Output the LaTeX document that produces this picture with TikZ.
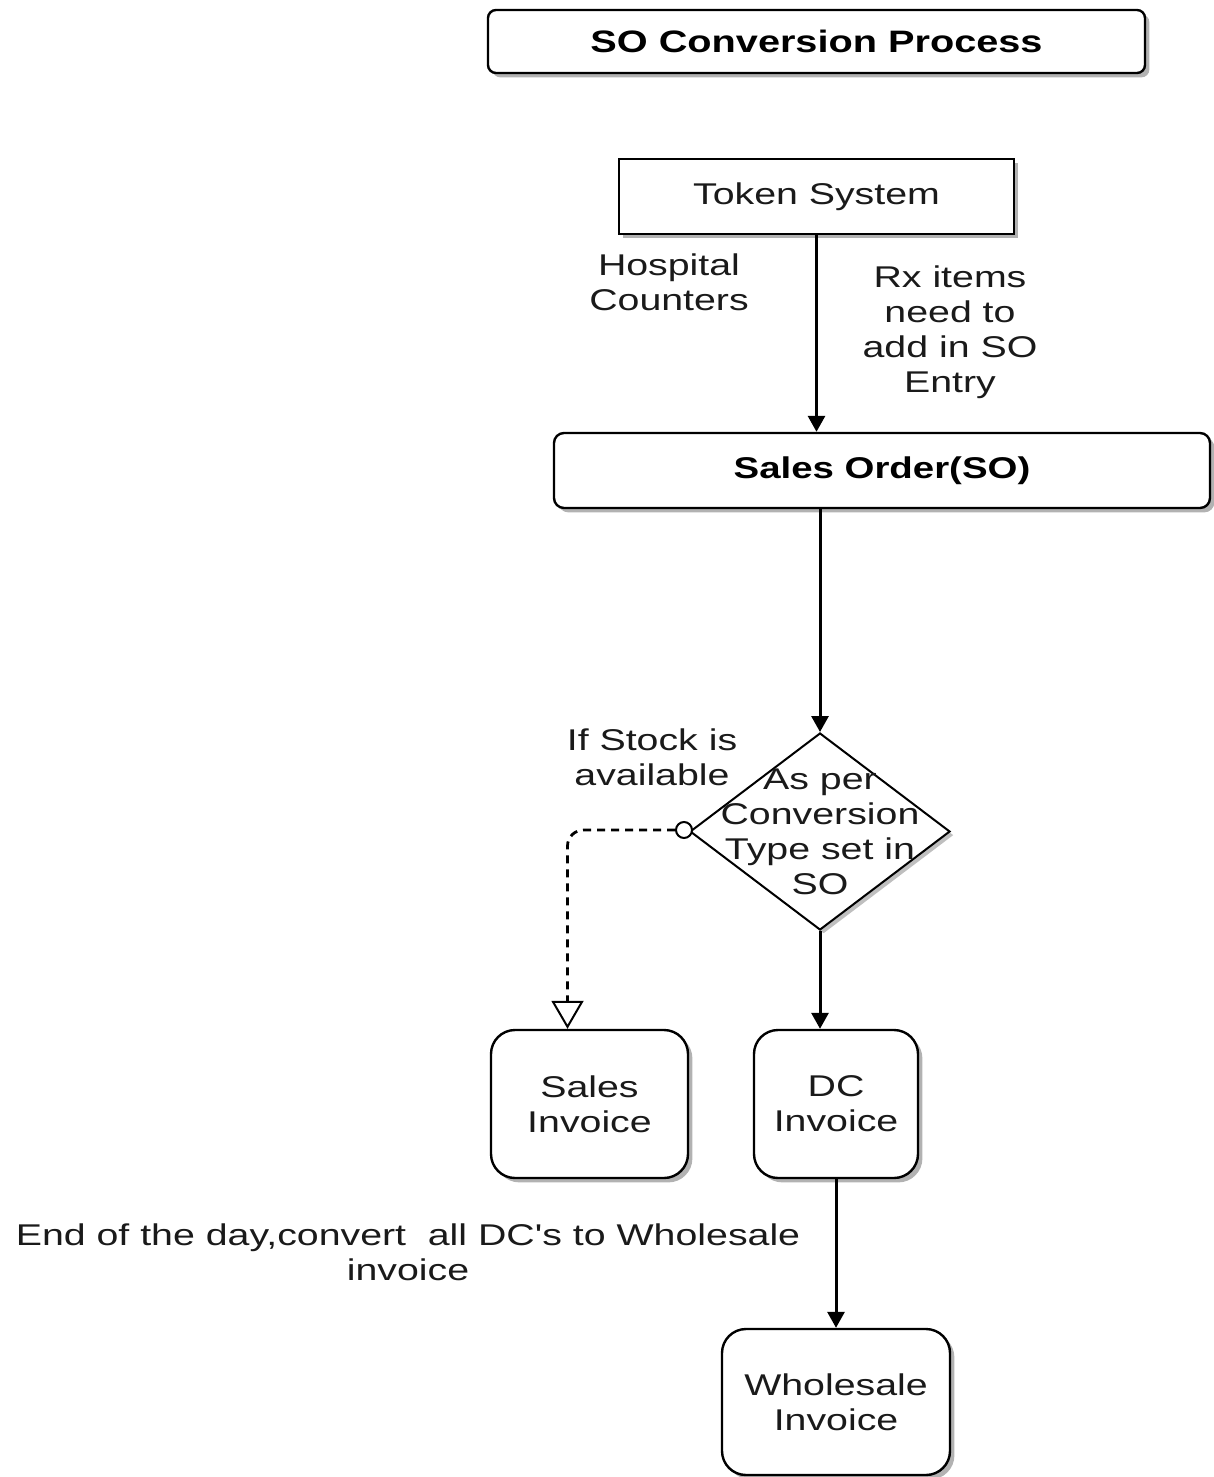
\documentclass[tikz,border=0pt]{standalone}
\usepackage{fontspec}
\setmainfont{Liberation Sans}[FakeStretch=1.31, Ligatures=TeXOff, BoldFeatures={FakeStretch=1.28}]
\usetikzlibrary{shapes.geometric,arrows.meta,shadows}
\definecolor{txt}{HTML}{1A1A1A}
\tikzset{
  base/.style={draw=black, fill=white, line width=1.2pt, inner sep=0pt,
    drop shadow={shadow xshift=2.2pt, shadow yshift=-2.2pt, fill=black!30, opacity=1},
    font=\fontsize{15}{17.5}\selectfont, align=center, text=txt},
  titlebox/.style={base, rounded corners=4pt, minimum width=328.5pt, minimum height=31.5pt, font=\bfseries\fontsize{15.5}{17.5}\selectfont, text=black},
  plainbox/.style={base, minimum width=197.5pt, minimum height=37.5pt},
  sobox/.style={base, rounded corners=5pt, minimum width=328pt, minimum height=37.5pt, font=\bfseries\fontsize{15}{17.5}\selectfont, text=black},
  invbox/.style={base, rounded corners=12pt, minimum height=74pt},
  decision/.style={diamond, draw=black, fill=white, line width=1pt, inner sep=0pt,
    minimum width=130pt, minimum height=98.5pt,
    drop shadow={shadow xshift=1.8pt, shadow yshift=-1.8pt, fill=black!25, opacity=1}},
  lbl/.style={font=\fontsize{15}{17.5}\selectfont, align=center, text=txt, inner sep=0pt},
  arr/.style={line width=1.5pt, -{Triangle[width=8.5pt, length=8pt]}},
  darr/.style={line width=1.4pt, dash pattern=on 4pt off 3pt, rounded corners=8pt,
    -{Triangle[open, width=16pt, length=14pt, line width=1pt, fill=white]}}
}
\begin{document}
\begin{tikzpicture}[x=0.5pt, y=-0.5pt]
\useasboundingbox (0,0) rectangle (1214,1477);
% nodes
\node[titlebox] (title) at (816.5,41.5) {SO Conversion Process};
\node[plainbox] (token) at (816.5,196.5) {Token System};
\node[sobox] (so) at (882,470.5) {Sales Order(SO)};
\node[decision] (dia) at (820,831.5) {};
\node[lbl] (diatext) at (820,831.5) {As per\\Conversion\\Type set in\\SO};
\node[invbox, minimum width=98.5pt] (sales) at (589.5,1104) {Sales\\Invoice};
\node[invbox, minimum width=82pt] (dc) at (836,1104) {DC\\Invoice};
\node[invbox, minimum width=114pt, minimum height=73pt] (whole) at (836,1402) {Wholesale\\Invoice};
% labels
\node[lbl] (hosp) at (669,282) {Hospital\\Counters};
\node[lbl] (rx) at (950,332) {Rx items\\need to\\add in SO\\Entry};
\node[lbl] (stock) at (652,757) {If Stock is\\available};
\node[lbl] (eod) at (408,1252) {End of the day,convert\ \ all DC's to Wholesale\\invoice};
\node[circle, draw=black, line width=1pt, fill=white, minimum size=8pt, inner sep=0pt] (circ) at (684,830) {};
\coordinate (dtip) at ([xshift=-11pt]sales.north);
% connectors
\draw[arr] (token.south) -- (token.south |- so.north);
\draw[arr] (dia.north |- so.south) -- (dia.north);
\draw[arr] (dia.south) -- (dia.south |- dc.north);
\draw[arr] (dc.south) -- (whole.north);
\draw[darr] (circ.west) -| (dtip);
\end{tikzpicture}
\end{document}
